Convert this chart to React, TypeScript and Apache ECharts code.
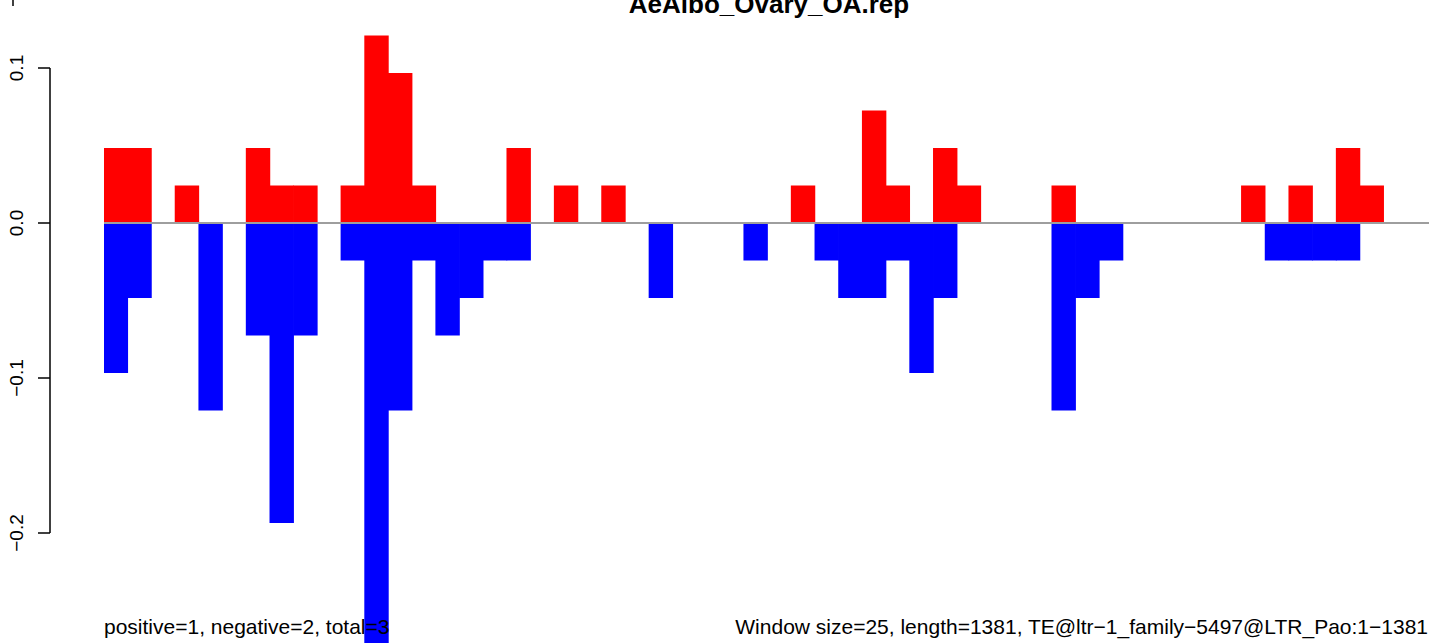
import React, { useEffect, useRef } from "react";
import * as echarts from "echarts";

// Window start positions (window size 25 over a length of 1381)
const windowStarts: number[] = [
  0, 25, 50, 75, 100, 125, 150, 175, 200, 225, 250, 275, 300, 325, 350, 375,
  400, 425, 450, 475, 500, 525, 550, 575, 600, 625, 650, 675, 700, 725, 750,
  775, 800, 825, 850, 875, 900, 925, 950, 975, 1000, 1025, 1050, 1075, 1100,
  1125, 1150, 1175, 1200, 1225, 1250, 1275, 1300, 1325, 1350, 1375,
];

const positiveValues: number[] = [
  0.0484, 0.0484, 0, 0.0242, 0, 0, 0.0484, 0.0242, 0.0242, 0, 0.0242, 0.121,
  0.0968, 0.0242, 0, 0, 0, 0.0484, 0, 0.0242, 0, 0.0242, 0, 0, 0, 0, 0, 0, 0,
  0.0242, 0, 0, 0.0726, 0.0242, 0, 0.0484, 0.0242, 0, 0, 0, 0.0242, 0, 0, 0,
  0, 0, 0, 0, 0.0242, 0, 0.0242, 0, 0.0484, 0.0242, 0, 0,
];

const negativeValues: number[] = [
  -0.0968, -0.0484, 0, 0, -0.121, 0, -0.0726, -0.1936, -0.0726, 0, -0.0242,
  -0.29, -0.121, -0.0242, -0.0726, -0.0484, -0.0242, -0.0242, 0, 0, 0, 0, 0,
  -0.0484, 0, 0, 0, -0.0242, 0, 0, -0.0242, -0.0484, -0.0484, -0.0242,
  -0.0968, -0.0484, 0, 0, 0, 0, -0.121, -0.0484, -0.0242, 0, 0, 0, 0, 0, 0,
  -0.0242, -0.0242, -0.0242, -0.0242, 0, 0, 0,
];

const yRange = { min: -0.3, max: 0.2 };
const yTickValues: number[] = [0.1, 0.0, -0.1, -0.2];
const axisLineRange: [number, number] = [0.1, -0.2];

const titleText = "AeAlbo_Ovary_OA.rep";
const leftNote = "positive=1, negative=2, total=3";
const rightNote =
  "Window size=25, length=1381, TE@ltr\u22121_family\u22125497@LTR_Pao:1\u22121381";

const FONT = '"Liberation Sans", Arial, Helvetica, sans-serif';

export default function App() {
  const ref = useRef<HTMLDivElement>(null);

  useEffect(() => {
    document.body.style.margin = "0";
    if (!ref.current) return;
    const chart = echarts.init(ref.current, undefined, { renderer: "svg" });

    chart.setOption({
      animation: false,
      backgroundColor: "#ffffff",
      grid: {
        left: 104,
        width: 1327,
        top: -87,
        height: 775,
        containLabel: false,
        outerBoundsMode: "none",
      },
      xAxis: {
        type: "category",
        data: windowStarts.map(String),
        show: false,
        boundaryGap: true,
      },
      yAxis: {
        type: "value",
        min: yRange.min,
        max: yRange.max,
        offset: 54,
        axisLine: { show: false },
        axisTick: {
          show: true,
          length: 12,
          customValues: yTickValues,
          lineStyle: { color: "#000000", width: 1.5 },
        },
        splitLine: { show: false },
        axisLabel: {
          show: true,
          rotate: 90,
          margin: 24,
          fontSize: 19,
          fontFamily: FONT,
          color: "#000000",
          customValues: yTickValues,
          formatter: (v: number) => {
            const s = Math.abs(v) < 1e-9 ? "0.0" : v.toFixed(1);
            return s.replace("-", "\u2212");
          },
        },
      },
      series: [
        {
          type: "line",
          data: [],
          z: 1,
          markLine: {
            silent: true,
            symbol: "none",
            label: { show: false },
            lineStyle: { color: "#9e9e9e", width: 2, type: "solid" },
            data: [{ yAxis: 0 }],
          },
        },
        {
          type: "bar",
          name: "positive",
          data: positiveValues,
          barWidth: "103%",
          barGap: "-100%",
          itemStyle: { color: "#ff0000" },
          z: 2,
        },
        {
          type: "bar",
          name: "negative",
          data: negativeValues,
          barWidth: "103%",
          barGap: "-100%",
          itemStyle: { color: "#0000ff" },
          z: 2,
        },
      ],
    });

    const yTop = chart.convertToPixel({ yAxisIndex: 0 }, axisLineRange[0]) as number;
    const yBot = chart.convertToPixel({ yAxisIndex: 0 }, axisLineRange[1]) as number;
    const axisX = 104 - 54;

    chart.setOption({
      graphic: [
        {
          type: "line",
          shape: { x1: axisX, y1: yTop, x2: axisX, y2: yBot },
          style: { stroke: "#000000", lineWidth: 1.5 },
          z: 10,
        },
        {
          type: "line",
          shape: { x1: 13, y1: 0, x2: 13, y2: 6 },
          style: { stroke: "#000000", lineWidth: 1.5 },
          z: 10,
        },
        {
          type: "text",
          x: 769,
          y: 3.5,
          style: {
            text: titleText,
            font: `bold 26px ${FONT}`,
            fill: "#000000",
            textAlign: "center",
            textVerticalAlign: "middle",
          },
          z: 10,
        },
        {
          type: "text",
          x: 104,
          y: 626,
          style: {
            text: leftNote,
            font: `21px ${FONT}`,
            fill: "#000000",
            textAlign: "left",
            textVerticalAlign: "middle",
          },
          z: 10,
        },
        {
          type: "text",
          x: 1428,
          y: 626,
          style: {
            text: rightNote,
            font: `21px ${FONT}`,
            fill: "#000000",
            textAlign: "right",
            textVerticalAlign: "middle",
          },
          z: 10,
        },
      ],
    });

    return () => {
      chart.dispose();
    };
  }, []);

  return <div ref={ref} style={{ width: 1429, height: 643 }} />;
}
